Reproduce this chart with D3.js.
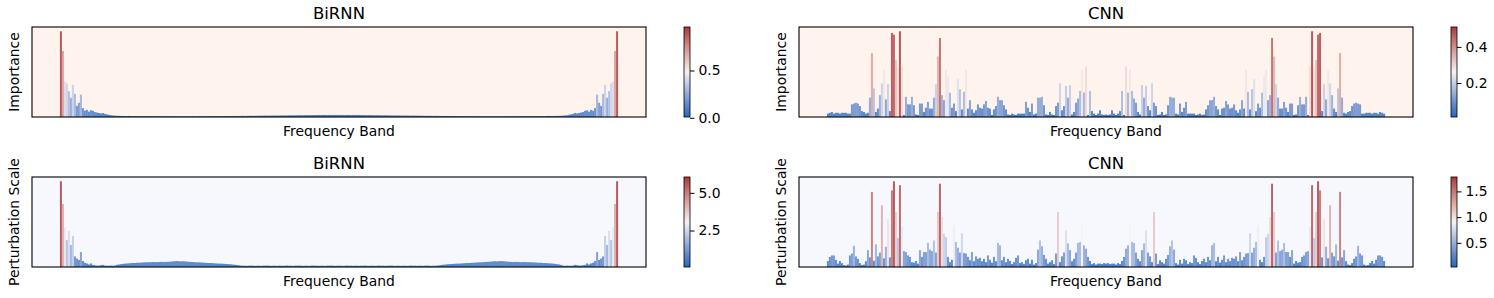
<!DOCTYPE html>
<html><head><meta charset="utf-8">
<script src="https://cdn.jsdelivr.net/npm/d3@7"></script>
<style>
body{margin:0;background:#fff}
svg{display:block}
text{font-family:"DejaVu Sans",sans-serif;fill:#000}
</style>
</head><body>
<svg id="chart" width="1494" height="298"></svg>
<script>
// ---------------- data ----------------
const titles = ["BiRNN", "CNN", "BiRNN", "CNN"];
const yLabels = ["Importance", "Importance", "Perturbation Scale", "Perturbation Scale"];
const xLabel = "Frequency Band";

const birnnImportance = [
0.96,0.74,0.40,0.375,0.29,0.215,0.36,0.26,0.125,0.16,
0.25,0.10,0.07,0.08,0.06,0.075,0.07,0.055,0.05,0.045,
0.04,0.045,0.035,0.03,0.025,0.02,0.018,0.015,0.014,0.013,
0.012,0.012,0.011,0.011,0.012,0.011,0.010,0.011,0.010,0.010,
0.010,0.009,0.010,0.010,0.009,0.010,0.009,0.009,0.010,0.009,
0.009,0.008,0.009,0.009,0.008,0.009,0.008,0.009,0.008,0.008,
0.008,0.008,0.009,0.008,0.008,0.008,0.009,0.008,0.008,0.009,
0.009,0.008,0.009,0.009,0.009,0.010,0.009,0.010,0.010,0.010,
0.010,0.011,0.010,0.011,0.011,0.011,0.012,0.011,0.012,0.012,
0.012,0.013,0.012,0.013,0.013,0.014,0.013,0.014,0.014,0.015,
0.015,0.015,0.016,0.015,0.016,0.016,0.017,0.016,0.017,0.017,
0.018,0.017,0.018,0.018,0.019,0.019,0.020,0.019,0.020,0.020,
0.021,0.020,0.021,0.021,0.022,0.021,0.022,0.022,0.022,0.023,
0.022,0.023,0.023,0.022,0.023,0.023,0.022,0.023,0.023,0.023,
0.023,0.023,0.022,0.023,0.023,0.022,0.023,0.023,0.022,
0.023,0.022,0.022,0.022,0.021,0.022,0.021,0.021,0.020,0.021,
0.020,0.020,0.019,0.020,0.019,0.019,0.018,0.018,0.017,0.018,
0.017,0.017,0.016,0.017,0.016,0.016,0.015,0.016,0.015,0.015,
0.015,0.014,0.014,0.013,0.014,0.013,0.013,0.012,0.013,0.012,
0.012,0.012,0.011,0.012,0.011,0.011,0.011,0.010,0.011,0.010,
0.010,0.010,0.010,0.009,0.010,0.009,0.009,0.009,0.008,0.009,
0.009,0.008,0.008,0.009,0.008,0.008,0.008,0.009,0.008,0.008,
0.008,0.008,0.009,0.008,0.009,0.008,0.009,0.009,0.008,0.009,
0.009,0.010,0.009,0.009,0.010,0.009,0.010,0.010,0.009,0.010,
0.010,0.010,0.011,0.010,0.011,0.012,0.011,0.011,0.012,0.012,
0.013,0.014,0.015,0.018,0.02,0.025,0.03,0.035,0.045,0.04,
0.045,0.05,0.055,0.07,0.075,0.06,0.08,0.07,0.10,0.25,
0.16,0.125,0.26,0.36,0.215,0.29,0.375,0.40,0.74,0.96];

const cnnImportance = [
0.02,0.025,0.03,0.02,0.025,0.025,0.02,0.025,0.025,0.025,
0.02,0.02,0.075,0.08,0.085,0.08,0.065,0.035,0.03,0.02,
0.025,0.115,0.38,0.17,0.03,0.05,0.13,0.2,0.28,0.105,
0.195,0.035,0.5,0.49,0.34,0.29,0.51,0.30,0.012,0.12,
0.075,0.075,0.12,0.07,0.015,0.012,0.08,0.08,0.03,0.055,
0.09,0.05,0.05,0.115,0.195,0.36,0.47,0.13,0.1,0.28,
0.24,0.145,0.055,0.08,0.035,0.225,0.165,0.045,0.15,0.28,
0.05,0.1,0.045,0.025,0.04,0.075,0.055,0.05,0.075,0.095,
0.055,0.05,0.012,0.045,0.065,0.12,0.1,0.1,0.07,0.045,
0.015,0.012,0.02,0.015,0.012,0.02,0.02,0.02,0.02,0.09,
0.055,0.03,0.08,0.015,0.02,0.115,0.115,0.12,0.07,0.015,
0.012,0.03,0.015,0.012,0.065,0.085,0.2,0.04,0.065,0.185,
0.115,0.19,0.015,0.03,0.085,0.11,0.155,0.28,0.145,0.3,
0.012,0.155,0.035,0.02,0.012,0.02,0.04,0.015,0.012,0.015,
0.012,0.015,0.04,0.02,0.012,0.02,0.035,0.155,0.012,
0.3,0.145,0.28,0.155,0.11,0.085,0.03,0.015,0.19,0.115,
0.185,0.065,0.04,0.2,0.085,0.065,0.012,0.015,0.03,0.012,
0.015,0.07,0.12,0.115,0.115,0.02,0.015,0.08,0.03,0.055,
0.09,0.02,0.02,0.02,0.02,0.012,0.015,0.02,0.012,0.015,
0.045,0.07,0.1,0.1,0.12,0.065,0.045,0.012,0.05,0.055,
0.095,0.075,0.05,0.055,0.075,0.04,0.025,0.045,0.1,0.05,
0.28,0.15,0.045,0.165,0.225,0.035,0.08,0.055,0.145,0.24,
0.28,0.1,0.13,0.47,0.36,0.195,0.115,0.05,0.05,0.09,
0.055,0.03,0.08,0.08,0.012,0.015,0.07,0.12,0.075,0.075,
0.12,0.012,0.30,0.51,0.29,0.34,0.49,0.5,0.035,0.195,
0.105,0.28,0.2,0.13,0.05,0.03,0.17,0.38,0.115,0.025,
0.02,0.03,0.035,0.065,0.08,0.085,0.08,0.075,0.02,0.02,
0.025,0.025,0.025,0.02,0.025,0.025,0.02,0.03,0.025,0.02];

const birnnPerturbation = [
6.05,4.45,2.8,1.9,2.55,1.55,2.2,0.75,0.6,0.5,
1.05,0.42,0.3,0.25,0.18,0.25,0.15,0.12,0.1,0.1,
0.13,0.15,0.1,0.09,0.09,0.1,0.09,0.1,0.15,0.18,
0.2,0.22,0.24,0.25,0.26,0.27,0.28,0.28,0.3,0.3,
0.31,0.32,0.33,0.33,0.34,0.34,0.35,0.35,0.34,0.35,
0.36,0.36,0.35,0.36,0.37,0.38,0.4,0.41,0.42,0.41,
0.4,0.41,0.4,0.38,0.37,0.36,0.35,0.34,0.33,0.33,
0.32,0.31,0.3,0.29,0.28,0.28,0.27,0.26,0.25,0.24,
0.24,0.23,0.22,0.21,0.2,0.19,0.17,0.16,0.14,0.12,
0.1,0.09,0.09,0.08,0.09,0.1,0.09,0.08,0.09,0.09,
0.08,0.09,0.09,0.1,0.09,0.08,0.09,0.09,0.08,0.09,
0.09,0.08,0.09,0.1,0.09,0.09,0.08,0.09,0.09,0.1,
0.09,0.08,0.09,0.09,0.08,0.09,0.1,0.09,0.09,0.08,
0.09,0.09,0.08,0.09,0.09,0.1,0.09,0.08,0.09,0.09,
0.09,0.08,0.09,0.1,0.09,0.09,0.08,0.09,0.09,
0.08,0.09,0.09,0.1,0.09,0.08,0.09,0.09,0.08,0.09,
0.1,0.09,0.09,0.08,0.09,0.09,0.1,0.09,0.08,0.09,
0.09,0.08,0.09,0.09,0.08,0.09,0.1,0.09,0.09,0.08,
0.09,0.09,0.08,0.09,0.1,0.09,0.08,0.09,0.09,0.1,
0.12,0.14,0.16,0.17,0.19,0.2,0.21,0.22,0.23,0.24,
0.24,0.25,0.26,0.27,0.28,0.28,0.29,0.3,0.31,0.32,
0.33,0.33,0.34,0.35,0.36,0.37,0.38,0.4,0.41,0.4,
0.41,0.42,0.41,0.4,0.38,0.37,0.36,0.35,0.36,0.36,
0.35,0.34,0.35,0.35,0.34,0.34,0.33,0.33,0.32,0.31,
0.3,0.3,0.28,0.28,0.27,0.26,0.25,0.24,0.22,0.2,
0.18,0.15,0.1,0.09,0.1,0.09,0.09,0.1,0.15,0.13,
0.1,0.1,0.12,0.15,0.25,0.18,0.25,0.3,0.42,1.05,
0.5,0.6,0.75,2.2,1.55,2.55,1.9,2.8,4.45,6.05];

const cnnPerturbation = [
0.125,0.21,0.24,0.24,0.15,0.07,0.125,0.08,0.04,0.03,
0.05,0.24,0.28,0.44,0.22,0.17,0.08,0.04,0.05,0.12,
0.35,0.2,1.56,0.13,0.47,0.22,0.3,1.28,0.18,0.42,
1.0,0.2,1.59,1.78,1.14,0.6,1.7,0.83,0.33,0.31,
0.24,0.21,0.1,0.09,0.125,0.07,0.35,0.21,0.31,0.31,
0.5,0.36,0.33,0.55,0.3,1.14,1.73,1.04,0.69,0.62,
0.21,0.1,0.15,0.87,0.52,0.4,0.3,0.7,0.29,0.28,
0.21,0.14,0.31,0.12,0.22,0.17,0.19,0.12,0.17,0.1,
0.24,0.15,0.09,0.21,0.12,0.5,0.45,0.14,0.21,0.1,
0.17,0.125,0.06,0.1,0.19,0.24,0.08,0.1,0.06,0.14,
0.17,0.07,0.15,0.05,0.08,0.36,0.55,0.43,0.25,0.17,
0.07,0.1,0.14,0.06,0.28,1.14,0.1,0.22,0.3,0.76,
0.49,0.35,0.12,0.17,0.3,0.5,0.52,0.9,0.45,0.38,
0.21,0.125,0.06,0.08,0.05,0.07,0.07,0.06,0.08,0.07,
0.08,0.06,0.07,0.07,0.05,0.08,0.06,0.125,0.21,
0.38,0.45,0.9,0.52,0.5,0.3,0.17,0.12,0.35,0.49,
0.76,0.3,0.22,0.1,1.14,0.28,0.06,0.14,0.1,0.07,
0.17,0.25,0.43,0.55,0.36,0.08,0.05,0.15,0.07,0.17,
0.14,0.06,0.1,0.08,0.24,0.19,0.1,0.06,0.125,0.17,
0.1,0.21,0.14,0.45,0.5,0.12,0.21,0.09,0.15,0.24,
0.1,0.17,0.12,0.19,0.17,0.22,0.12,0.31,0.14,0.21,
0.28,0.29,0.7,0.3,0.4,0.52,0.87,0.15,0.1,0.21,
0.62,0.69,1.04,1.73,1.14,0.3,0.55,0.33,0.36,0.5,
0.31,0.31,0.21,0.35,0.07,0.125,0.09,0.1,0.21,0.24,
0.31,0.33,0.83,1.7,0.6,1.14,1.78,1.59,0.2,1.0,
0.42,0.18,1.28,0.3,0.22,0.47,0.13,1.56,0.2,0.35,
0.12,0.05,0.04,0.08,0.17,0.22,0.44,0.28,0.24,0.05,
0.03,0.04,0.08,0.125,0.07,0.15,0.24,0.24,0.21,0.125];

const cbTicksBirnnImportance = [0.0, 0.5];
const cbTicksCnnImportance = [0.2, 0.4];
const cbTicksBirnnPerturbation = [2.5, 5.0];
const cbTicksCnnPerturbation = [0.5, 1.0, 1.5];

// ---------------- layout / style ----------------
const svg = d3.select("#chart");
const panels = [
  {values: birnnImportance, ticks: cbTicksBirnnImportance, x0: 32, x1: 646, y0: 27, y1: 117, bg: "#fef3ed"},
  {values: cnnImportance, ticks: cbTicksCnnImportance, x0: 799, x1: 1413, y0: 27, y1: 117, bg: "#fef3ed"},
  {values: birnnPerturbation, ticks: cbTicksBirnnPerturbation, x0: 32, x1: 646, y0: 177, y1: 267, bg: "#f7f8fe"},
  {values: cnnPerturbation, ticks: cbTicksCnnPerturbation, x0: 799, x1: 1413, y0: 177, y1: 267, bg: "#f7f8fe"}
];

// vlag-like diverging colormap
const vlagStops = ["#2369bd", "#5b84c9", "#8fa9d8", "#c3cde8", "#f5f2f3", "#e8c4c2", "#d79894", "#c26a68", "#a9373b"];
const vlag = d3.scaleLinear()
  .domain(d3.range(vlagStops.length).map(i => i / (vlagStops.length - 1)))
  .range(vlagStops)
  .interpolate(d3.interpolateRgb);

const defs = svg.append("defs");
const fontMain = 13.9;

panels.forEach((p, k) => {
  const n = p.values.length;
  const m = 0.05 * n;
  const xs = d3.scaleLinear().domain([-0.5 - m, n - 0.5 + m]).range([p.x0, p.x1]);
  const vmax = d3.max(p.values);
  const ys = d3.scaleLinear().domain([0, vmax * 1.05]).range([p.y1, p.y0]);
  const ext = d3.extent(p.values);
  const norm = d3.scaleLinear().domain(ext).range([0, 1]).clamp(true);

  const g = svg.append("g");
  g.append("rect").attr("x", p.x0).attr("y", p.y0)
    .attr("width", p.x1 - p.x0).attr("height", p.y1 - p.y0).attr("fill", p.bg);

  g.append("g").selectAll("rect").data(p.values).join("rect")
    .attr("x", (d, i) => xs(i - 0.5))
    .attr("width", xs(0.5) - xs(-0.5))
    .attr("y", d => ys(d))
    .attr("height", d => ys(0) - ys(d))
    .attr("fill", d => vlag(norm(d)))
    .attr("fill-opacity", 0.82);

  g.append("rect").attr("x", p.x0).attr("y", p.y0)
    .attr("width", p.x1 - p.x0).attr("height", p.y1 - p.y0)
    .attr("fill", "none").attr("stroke", "#000").attr("stroke-width", 1.1);

  // title
  g.append("text").attr("x", (p.x0 + p.x1) / 2).attr("y", p.y0 - 8.5)
    .attr("text-anchor", "middle").attr("font-size", 16.5).text(titles[k]);
  // x label
  g.append("text").attr("x", (p.x0 + p.x1) / 2).attr("y", p.y1 + 19)
    .attr("text-anchor", "middle").attr("font-size", fontMain).text(xLabel);
  // y label
  const ly = (p.y0 + p.y1) / 2, lx = p.x0 - 13.5;
  g.append("text").attr("transform", `translate(${lx},${ly}) rotate(-90)`)
    .attr("text-anchor", "middle").attr("font-size", fontMain).text(yLabels[k]);

  // colorbar
  const cbx = p.x1 + 38, cbw = 6;
  const gid = "grad" + k;
  const grad = defs.append("linearGradient").attr("id", gid)
    .attr("x1", 0).attr("y1", 1).attr("x2", 0).attr("y2", 0);
  d3.range(0, 1.0001, 0.02).forEach(t => {
    grad.append("stop").attr("offset", t).attr("stop-color", vlag(t));
  });
  g.append("rect").attr("x", cbx).attr("y", p.y0).attr("width", cbw).attr("height", p.y1 - p.y0)
    .attr("fill", `url(#${gid})`).attr("stroke", "#000").attr("stroke-width", 0.8);
  const cs = d3.scaleLinear().domain(ext).range([p.y1, p.y0]);
  const axis = d3.axisRight(cs).tickValues(p.ticks).tickFormat(d3.format(".1f")).tickSize(4.5).tickPadding(4);
  const ag = g.append("g").attr("transform", `translate(${cbx + cbw},0)`).call(axis);
  ag.select(".domain").remove();
  ag.selectAll("line").attr("stroke", "#000").attr("stroke-width", 1);
  ag.selectAll("text").attr("font-size", fontMain).attr("font-family", "DejaVu Sans, sans-serif").attr("fill", "#000");
});
</script>
</body></html>
